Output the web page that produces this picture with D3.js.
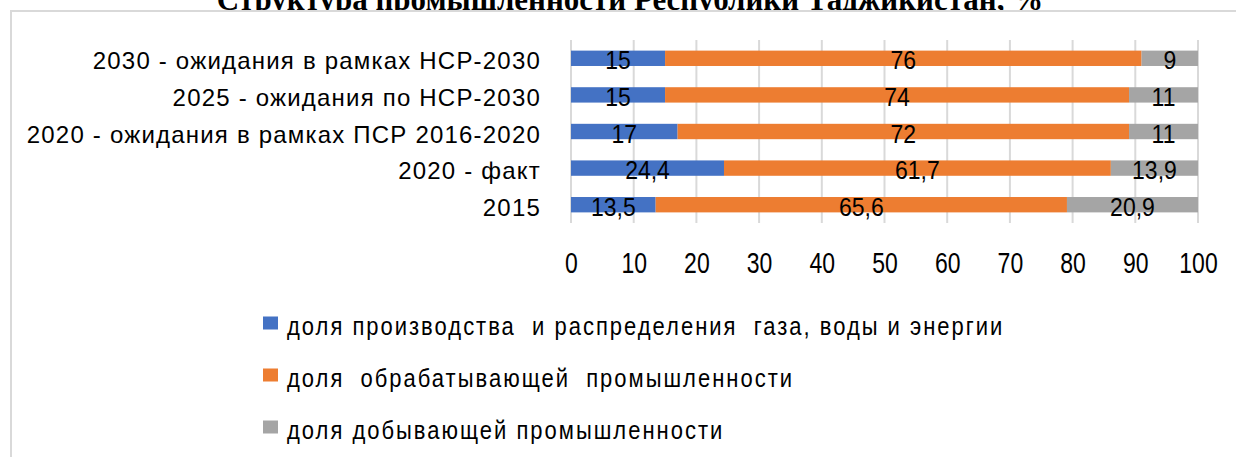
<!DOCTYPE html>
<html>
<head>
<meta charset="utf-8">
<script src="https://cdn.jsdelivr.net/npm/d3@7"></script>
<style>
  body { margin: 0; background: #fff; }
  text { font-family: "Liberation Sans", Arial, sans-serif; fill: #000; }
</style>
</head>
<body>
<div id="chart"></div>
<script>
(function(){

  var width = 1236, height = 457;

  // data, top row first
  var categories = [
    "2030 - ожидания в рамках НСР-2030",
    "2025 - ожидания по НСР-2030",
    "2020 - ожидания в рамках ПСР 2016-2020",
    "2020 - факт",
    "2015"
  ];
  var energyShare = [15, 15, 17, 24.4, 13.5];
  var manufShare  = [76, 74, 72, 61.7, 65.6];
  var miningShare = [9, 11, 11, 13.9, 20.9];
  var seriesNames = [
    "доля производства  и распределения  газа, воды и энергии",
    "доля  обрабатывающей  промышленности",
    "доля добывающей промышленности"
  ];
  var xTicks = [0, 10, 20, 30, 40, 50, 60, 70, 80, 90, 100];
  var title = "Структура промышленности Республики Таджикистан, %";

  var colors = ["#4472c4", "#ed7d31", "#a5a5a5"];
  var series = [energyShare, manufShare, miningShare];

  var svg = d3.select("#chart").append("svg")
      .attr("width", width)
      .attr("height", height);

  // title, its lower half hidden behind the chart frame
  svg.append("text")
      .attr("x", 630).attr("y", 10)
      .attr("text-anchor", "middle")
      .style("font-family", "'Liberation Serif', 'Times New Roman', serif")
      .style("font-weight", "bold")
      .style("font-size", "31px")
      .text(title);

  svg.append("rect")
      .attr("x", 11).attr("y", 11)
      .attr("width", width + 20).attr("height", height + 20)
      .attr("fill", "#fff")
      .attr("stroke", "#d9d9d9")
      .attr("stroke-width", 2);

  var x = d3.scaleLinear().domain([0, 100]).range([571, 1198]);
  var y = d3.scaleBand().domain(categories).range([40, 223])
      .paddingInner(0.58).paddingOuter(0.29);

  // gridlines
  svg.append("g").selectAll("line")
      .data(xTicks)
    .enter().append("line")
      .attr("x1", function(d){ return x(d); })
      .attr("x2", function(d){ return x(d); })
      .attr("y1", 40).attr("y2", 223)
      .attr("stroke", "#d9d9d9")
      .attr("stroke-width", 2);

  // stack rows
  var rows = categories.map(function(c, i){
    var start = 0;
    return series.map(function(s, k){
      var seg = {cat: c, k: k, x0: start, x1: start + s[i], v: s[i]};
      start += s[i];
      return seg;
    });
  });
  var segs = d3.merge(rows);

  svg.append("g").selectAll("rect")
      .data(segs)
    .enter().append("rect")
      .attr("x", function(d){ return x(d.x0); })
      .attr("width", function(d){ return x(d.x1) - x(d.x0); })
      .attr("y", function(d){ return y(d.cat); })
      .attr("height", y.bandwidth())
      .attr("fill", function(d){ return colors[d.k]; });

  // value labels (the source text is a bit stretched vertically)
  svg.append("g").selectAll("text")
      .data(segs)
    .enter().append("text")
      .attr("transform", function(d){
        return "translate(" + x((d.x0 + d.x1) / 2) + "," + (y(d.cat) + y.bandwidth() / 2 + 11) + ") scale(1,1.1)";
      })
      .attr("text-anchor", "middle")
      .style("font-size", "23px")
      .text(function(d){ return String(d.v).replace(".", ","); });

  // category labels
  svg.append("g").selectAll("text")
      .data(categories)
    .enter().append("text")
      .attr("x", 541)
      .attr("y", function(d){ return y(d) + y.bandwidth() / 2 + 11; })
      .attr("text-anchor", "end")
      .style("font-size", "24px")
      .style("letter-spacing", "1.2px")
      .text(function(d){ return d; });

  // x axis labels
  var xAxis = d3.axisBottom(x).tickValues(xTicks).tickSize(0).tickPadding(0);
  var ax = svg.append("g")
      .attr("transform", "translate(0,273)")
      .call(xAxis);
  ax.select(".domain").remove();
  ax.selectAll(".tick text")
      .attr("dy", 0).attr("y", 0)
      .attr("transform", "scale(1,1.27)")
      .style("font-size", "23px")
      .style("font-family", "'Liberation Sans', Arial, sans-serif")
      .attr("fill", "#000");

  // legend
  var legend = svg.append("g").selectAll("g")
      .data(seriesNames)
    .enter().append("g")
      .attr("transform", function(d, i){ return "translate(263," + (323 + i * 52) + ")"; });

  legend.append("rect")
      .attr("x", 0).attr("y", -6.5)
      .attr("width", 15).attr("height", 13)
      .attr("fill", function(d, i){ return colors[i]; });

  legend.append("text")
      .attr("transform", "translate(24,12) scale(1,1.2)")
      .style("font-size", "22px")
      .style("letter-spacing", "2px")
      .attr("xml:space", "preserve")
      .text(function(d){ return d; });

})();
</script>
</body>
</html>
